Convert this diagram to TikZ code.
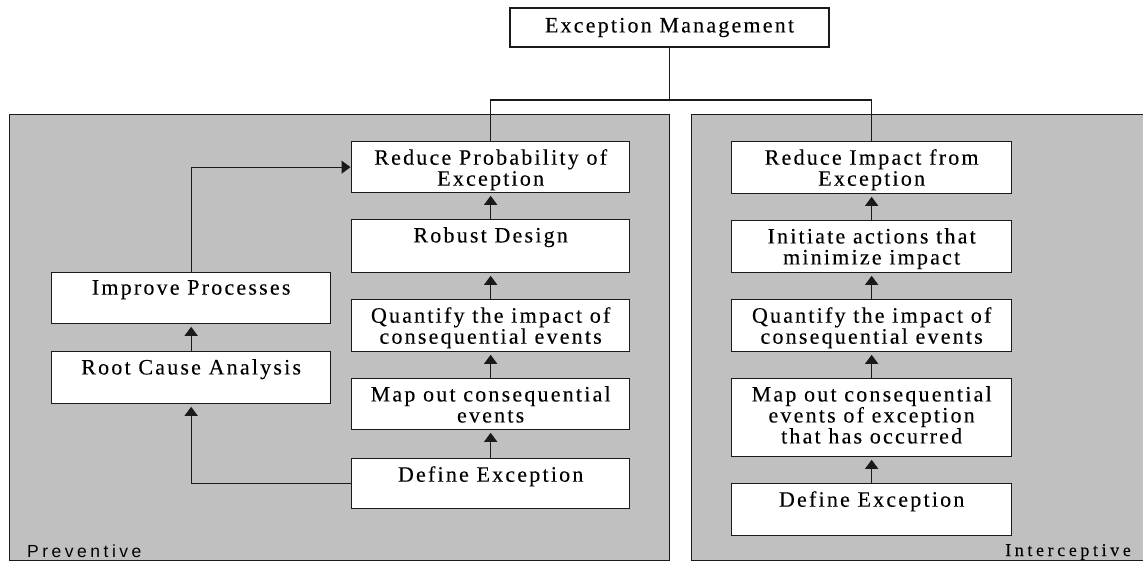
\documentclass[tikz,border=0pt]{standalone}
\usepackage{fontspec}
\setmainfont{Liberation Serif}[LetterSpace=10,FakeBold=0.12]
\newfontfamily\pvfont{Liberation Sans}[LetterSpace=20]
\newfontfamily\icfont{Liberation Serif}[LetterSpace=20,FakeBold=0.1]
\usetikzlibrary{arrows.meta}
\definecolor{panelgray}{HTML}{C0C0C0}
\definecolor{ink}{HTML}{1A1A1A}
\begin{document}
\begin{tikzpicture}[x=1pt,y=-1pt,
  panel/.style={draw=ink, fill=panelgray, line width=1.1pt, inner sep=0pt, anchor=north west},
  box/.style={draw=ink, fill=white, line width=1.3pt, inner sep=0pt, anchor=north west},
  txt/.style={font=\fontsize{22}{21}\selectfont, align=center, inner sep=0pt},
  arr/.style={draw=ink, line width=1.3pt, -{Triangle[width=13pt,length=9pt]}, shorten >=2.5pt},
  conn/.style={draw=ink, line width=1.3pt}]
\useasboundingbox (0,0) rectangle (1143,563);
% panels
\node[panel, minimum width=660pt, minimum height=446pt] (lpanel) at (9,114) {};
\node[panel, minimum width=452pt, minimum height=446pt] (rpanel) at (691,114) {};
\node[anchor=base west, inner sep=0pt, font=\pvfont\fontsize{17.5}{17}\selectfont] (prev) at (27,557) {Preventive};
\node[anchor=base east, inner sep=0pt, font=\icfont\fontsize{18}{17}\selectfont] (intc) at (1131,556) {Interceptive};
% top
\node[box, anchor=center, minimum width=319pt, minimum height=39pt, font=\fontsize{22}{21}\selectfont] (em) at (669.5,27.5) {Exception Management};
% left centre column
\node[box, minimum width=278pt, minimum height=51pt, label={[txt, anchor=north, yshift=-8pt]north:{Reduce Probability of\\Exception}}] (rp) at (351,141) {};
\node[box, minimum width=278pt, minimum height=53pt, label={[txt, anchor=north, yshift=-8pt]north:{Robust Design}}] (rd) at (351,219) {};
\node[box, minimum width=278pt, minimum height=52pt, label={[txt, anchor=north, yshift=-8pt]north:{Quantify the impact of\\consequential events}}] (qi) at (351,299) {};
\node[box, minimum width=278pt, minimum height=51pt, label={[txt, anchor=north, yshift=-8pt]north:{Map out consequential\\events}}] (mo) at (351,378) {};
\node[box, minimum width=278pt, minimum height=50pt, label={[txt, anchor=north, yshift=-8pt]north:{Define Exception}}] (de) at (351,458) {};
% left column
\node[box, minimum width=279pt, minimum height=51pt, label={[txt, anchor=north, yshift=-8pt]north:{Improve Processes}}] (ip) at (51,272) {};
\node[box, minimum width=279pt, minimum height=52pt, label={[txt, anchor=north, yshift=-8pt]north:{Root Cause Analysis}}] (rc) at (51,351) {};
% right column
\node[box, minimum width=280pt, minimum height=52pt, label={[txt, anchor=north, yshift=-8pt]north:{Reduce Impact from\\Exception}}] (ri) at (731,141) {};
\node[box, minimum width=280pt, minimum height=52pt, label={[txt, anchor=north, yshift=-8pt]north:{Initiate actions that\\minimize impact}}] (ia) at (731,220) {};
\node[box, minimum width=280pt, minimum height=52pt, label={[txt, anchor=north, yshift=-8pt]north:{Quantify the impact of\\consequential events}}] (qr) at (731,299) {};
\node[box, minimum width=280pt, minimum height=78pt, label={[txt, anchor=north, yshift=-8pt]north:{Map out consequential\\events of exception\\that has occurred}}] (mr) at (731,378) {};
\node[box, minimum width=280pt, minimum height=52pt, label={[txt, anchor=north, yshift=-8pt]north:{Define Exception}}] (dr) at (731,483) {};
% tree connectors
\coordinate (j) at (669.5,100);
\draw[conn] (em.south) -- (j);
\draw[conn] (rp.north) |- (j) -| (ri.north);
% arrows left centre
\draw[arr] (de.north) -- (mo.south);
\draw[arr] (mo.north) -- (qi.south);
\draw[arr] (qi.north) -- (rd.south);
\draw[arr] (rd.north) -- (rp.south);
% left column
\draw[arr] (de.west) -| (rc.south);
\draw[arr] (rc.north) -- (ip.south);
\draw[arr, shorten >=0.5pt] (ip.north) |- (rp.west);
% right column
\draw[arr] (dr.north) -- (mr.south);
\draw[arr] (mr.north) -- (qr.south);
\draw[arr] (qr.north) -- (ia.south);
\draw[arr] (ia.north) -- (ri.south);
\end{tikzpicture}
\end{document}
